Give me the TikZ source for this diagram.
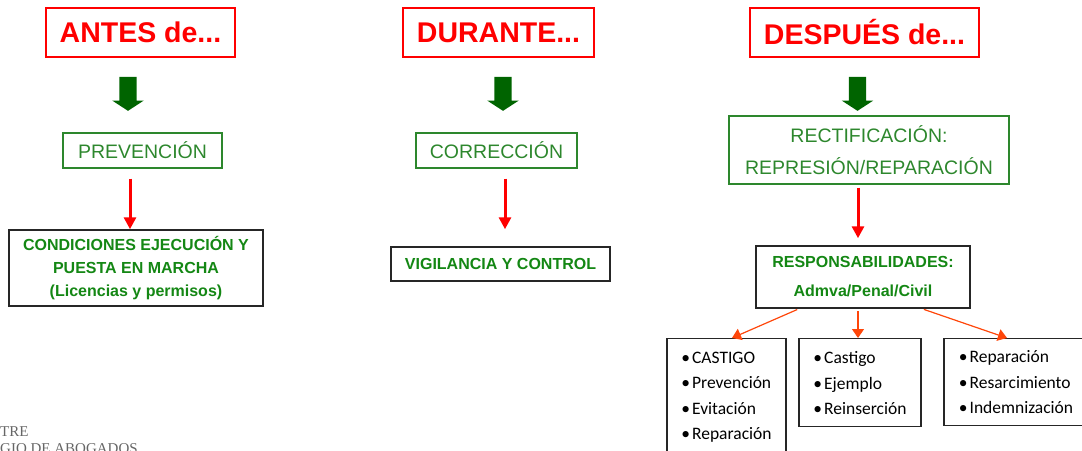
\documentclass[tikz,border=0pt]{standalone}
\usepackage{fontspec}
\setmainfont{Liberation Sans}
\newfontfamily\calibri{Carlito}
\newfontfamily\oldserif{Liberation Serif}
\usetikzlibrary{arrows.meta,shapes.arrows}
\definecolor{titlered}{RGB}{255,0,0}
\definecolor{boxgreen}{RGB}{45,135,45}
\definecolor{textgreen}{RGB}{20,135,20}
\definecolor{arrowgreen}{RGB}{0,100,0}
\definecolor{linkorange}{RGB}{255,70,10}
\tikzset{
    title/.style={draw=titlered, line width=1.3pt, text=titlered, minimum height=49pt,
    	inner sep=0pt, font=\fontsize{28.5}{32}\selectfont\bfseries}
}
\tikzset{
    stage/.style={draw=boxgreen, line width=1.3pt, text=boxgreen, minimum height=35pt,
    	inner sep=0pt, align=center, font=\fontsize{19.5}{32}\selectfont}
}
\tikzset{
    effect/.style={draw=black!85, line width=1.5pt, text=textgreen, inner sep=0pt,
    	align=center, font=\fontsize{16}{23}\selectfont\bfseries}
}
\tikzset{
    listbox/.style={draw=black!85, line width=1.3pt, anchor=north, inner ysep=0pt,
    	inner xsep=0pt, align=left, font=\calibri\fontsize{17.5}{25.5}\selectfont}
}
\tikzset{
    blockarrow/.style={single arrow, fill=arrowgreen, shape border rotate=270,
    	minimum height=34pt, minimum width=31pt, single arrow head extend=7pt,
    	single arrow tip angle=114, single arrow head indent=0pt, inner sep=8.5pt}
}
\tikzset{
    redarrow/.style={draw=titlered, line width=3pt, -{Triangle[width=12pt,length=12pt]}},
    orangearrow/.style={draw=linkorange, line width=1.2pt, -{Triangle[width=12pt,length=9pt]}}
}
\newcommand{\itm}{\textbullet\hspace{2pt}}

\begin{document}
\begin{tikzpicture}[x=1pt, y=-1pt]
  \useasboundingbox (0, 0) rectangle (1082, 450);
  \begin{scope}
  \clip (0, 0) rectangle (1082, 450);
  \node (antes) [title, minimum width=189pt] at (140.5, 32.5) {ANTES de...};
  \node (durante) [title, minimum width=191pt] at (498.5, 32.5) {DURANTE...};
  \node (despues) [title, minimum width=229pt] at (864.5, 32.5) {DESPUÉS de...};

  \node (g1) [blockarrow] at (128, 91) {};
  \node (g2) [blockarrow] at (503, 91) {};
  \node (g3) [blockarrow] at (857.5, 91) {};

  \node (prev) [stage, minimum width=159pt] at (142.5, 150.5) {PREVENCIÓN};
  \node (corr) [stage, minimum width=161pt] at (496.5, 150.5) {CORRECCIÓN};
  \node (rect) [stage, minimum width=280pt, minimum height=68pt] at (869, 150)
  	{RECTIFICACIÓN:\\REPRESIÓN/REPARACIÓN};

  \node (cond) [effect, minimum width=254pt, minimum height=76pt] at (136, 268)
  	{CONDICIONES EJECUCIÓN Y\\PUESTA EN MARCHA\\(Licencias y permisos)};
  \node (vigil) [effect, minimum width=219pt, minimum height=34pt] at (500.5, 264)
  	{VIGILANCIA Y CONTROL};
  \node (resp) [effect, minimum width=214pt, minimum height=62pt,
  	font=\fontsize{16}{29}\selectfont\bfseries] at (863, 277)
  	{RESPONSABILIDADES:\\Admva/Penal/Civil};

  \node (castigo) [listbox, minimum width=119pt, text height=101pt, text depth=24pt]
  	at (726.5, 338) {\itm CASTIGO\\\itm Prevención\\\itm Evitación\\\itm Reparación};
  \node (ejemplo) [listbox, minimum width=122pt, text height=76pt, text depth=12pt]
  	at (860, 338) {\itm Castigo\\\itm Ejemplo\\\itm Reinserción};
  \node (repar) [listbox, minimum width=144pt, text height=75pt, text depth=12pt]
  	at (1016, 338) {\itm Reparación\\\itm Resarcimiento\\\itm Indemnización};

  \node (colegio) [anchor=north west, align=left, inner sep=0pt, text=black!60,
  	font=\oldserif\fontsize{15}{17}\selectfont] at (0, 426) {TRE\\GIO DE ABOGADOS};

  \draw ([xshift=-12.5pt]prev.south) edge [redarrow, shorten <=10pt] ([xshift=-6pt]cond.north);
  \draw ([xshift=8.5pt]corr.south) edge [redarrow, shorten <=10pt, shorten >=17pt] ([xshift=4.5pt]vigil.north);
  \draw ([xshift=-11pt]rect.south) edge [redarrow, shorten <=3pt, shorten >=7pt] ([xshift=-5pt]resp.north);

  \draw ([xshift=-64pt]resp.south) edge [orangearrow, shorten <=2pt] ([xshift=5.5pt]castigo.north);
  \draw ([xshift=-5pt]resp.south) edge [orangearrow, shorten <=2pt] ([xshift=-2pt]ejemplo.north);
  \draw ([xshift=59pt]resp.south) edge [orangearrow, shorten <=2pt] ([xshift=-9pt]repar.north);
  \end{scope}
\end{tikzpicture}
\end{document}
